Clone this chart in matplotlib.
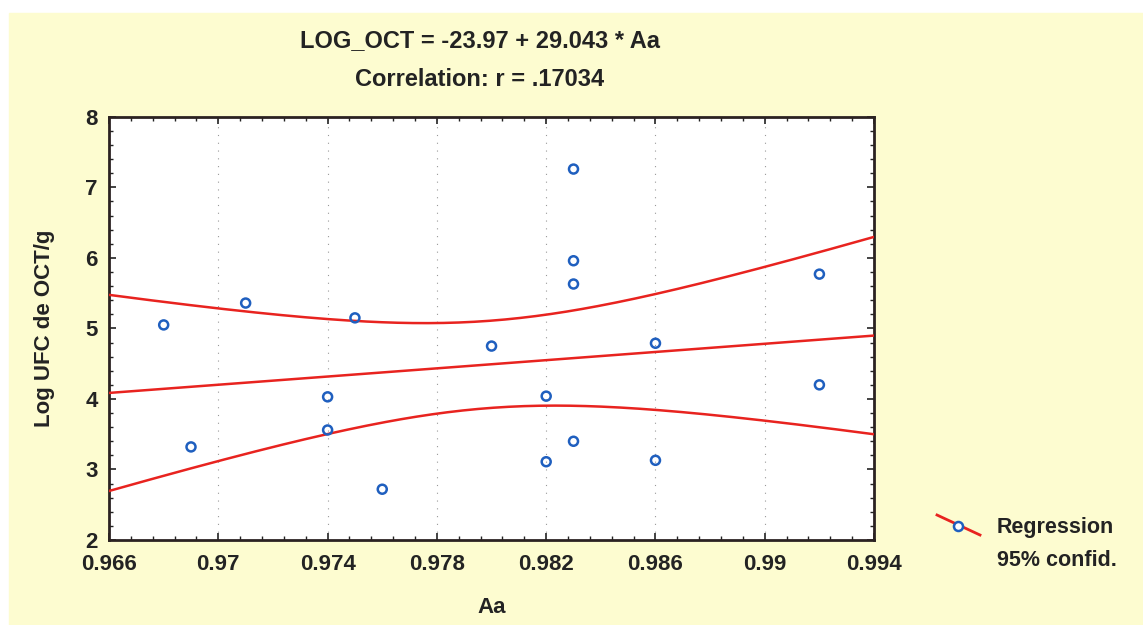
import numpy as np
import matplotlib.pyplot as plt
from matplotlib.lines import Line2D

# Data
aa = [0.968, 0.969, 0.971, 0.974, 0.974, 0.975, 0.976, 0.980, 0.982,
      0.982, 0.983, 0.983, 0.983, 0.983, 0.986, 0.986, 0.992, 0.992]
log_oct = [5.05, 3.32, 5.36, 4.03, 3.56, 5.15, 2.72, 4.75, 4.04,
           3.11, 7.26, 5.96, 5.63, 3.40, 4.79, 3.13, 5.77, 4.20]

intercept = -23.97
slope = 29.043
t_crit = 2.120  # t(0.975, df=16)

plt.rcParams['font.family'] = ['Liberation Sans', 'DejaVu Sans']

x = np.array(aa)
y = np.array(log_oct)
n = len(x)

# regression line from the reported equation, band from residuals
xs = np.linspace(0.966, 0.994, 200)
fit = intercept + slope * xs
resid = y - (intercept + slope * x)
s = np.sqrt(np.sum(resid ** 2) / (n - 2))
sxx = np.sum((x - x.mean()) ** 2)
half = t_crit * s * np.sqrt(1.0 / n + (xs - x.mean()) ** 2 / sxx)

bg = '#fdfcd0'
txt = '#232323'
fig = plt.figure(figsize=(11.43, 6.25), dpi=100)
fig.patch.set_facecolor('white')
fig.add_artist(plt.Rectangle((9 / 1143, 0), 1 - 9 / 1143, 1 - 13 / 625,
                             transform=fig.transFigure, color=bg, zorder=-10))

ax = fig.add_axes([0.0954, 0.136, 0.6693, 0.677])
ax.set_facecolor('white')

ax.plot(xs, fit, color='#e8231f', lw=1.8, zorder=3)
ax.plot(xs, fit + half, color='#e8231f', lw=1.8, zorder=3)
ax.plot(xs, fit - half, color='#e8231f', lw=1.8, zorder=3)
ax.scatter(x, y, s=42, facecolors='none', edgecolors='#1f5fbf',
           linewidths=1.8, zorder=4)

ax.set_xlim(0.966, 0.994)
ax.set_ylim(2, 8)
xticks = [0.966, 0.97, 0.974, 0.978, 0.982, 0.986, 0.99, 0.994]
ax.set_xticks(xticks)
ax.set_xticklabels(['0.966', '0.97', '0.974', '0.978', '0.982', '0.986', '0.99', '0.994'])
ax.set_yticks([2, 3, 4, 5, 6, 7, 8])
ax.set_xticks(np.arange(0.966, 0.9941, 0.0008), minor=True)
ax.set_yticks(np.arange(2, 8.01, 0.2), minor=True)
ax.tick_params(which='both', direction='in', top=True, right=True,
               labelsize=16, color='#222222')
ax.tick_params(axis='x', which='major', pad=10)
ax.tick_params(axis='y', which='major', pad=8)
ax.tick_params(which='major', length=5, width=1.2)
ax.tick_params(which='minor', length=3, width=1)
for t in ax.get_xticklabels() + ax.get_yticklabels():
    t.set_fontweight('bold')
    t.set_color(txt)
for sp in ax.spines.values():
    sp.set_linewidth(2)
    sp.set_color('#2b2222')
ax.grid(axis='x', which='major', linestyle=(0, (1, 6)), color='#999999', lw=0.8)

ax.set_xlabel('Aa', fontsize=16, fontweight='bold', color=txt, labelpad=16)
ax.set_ylabel('Log UFC de OCT/g', fontsize=16, fontweight='bold', color=txt, labelpad=22)

fig.text(0.42, 0.935, 'LOG_OCT = -23.97 + 29.043 * Aa', ha='center', va='center',
         fontsize=17, fontweight='bold', color=txt)
fig.text(0.42, 0.872, 'Correlation: r = .17034', ha='center', va='center',
         fontsize=17, fontweight='bold', color=txt)

# legend
fig.add_artist(Line2D([937 / 1143, 980 / 1143], [1 - 515 / 625, 1 - 535 / 625],
                      color='#e8231f', lw=2, transform=fig.transFigure))
fig.add_artist(Line2D([958 / 1143], [1 - 526 / 625], marker='o', markersize=6.5,
                      markerfacecolor='white', markeredgecolor='#1f5fbf',
                      markeredgewidth=1.8, transform=fig.transFigure))
fig.text(997 / 1143, 1 - 527 / 625, 'Regression', fontsize=15.5, fontweight='bold',
         color=txt, va='center')
fig.text(997 / 1143, 1 - 560 / 625, '95% confid.', fontsize=15.5, fontweight='bold',
         color=txt, va='center')

fig.savefig('out.png', dpi=100, facecolor=fig.get_facecolor())
